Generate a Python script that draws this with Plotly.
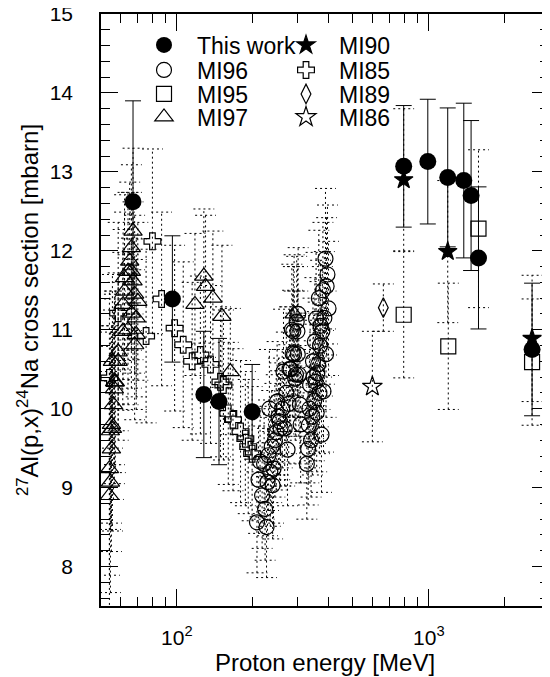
import math
import plotly.graph_objects as go

# ---------------- data ----------------
# This work (filled circles, solid error bars)
tw_E = [67, 96, 128, 147, 199, 795, 991, 1189, 1377, 1472, 1575, 2570]
tw_S = [12.62, 11.39, 10.18, 10.09, 9.96, 13.07, 13.13, 12.93, 12.89, 12.70, 11.91, 10.75]
tw_Err = [1.28, 0.80, 0.80, 0.80, 0.60, 0.77, 0.79, 0.88, 0.98, 0.95, 0.90, 0.84]

# MI96 (open circles)
mi96_E = [208, 211, 214, 218, 222, 224, 227, 229, 231, 233, 235, 238, 240, 242, 245,
          248, 250, 253, 256, 258, 262, 265, 268, 272, 275, 278, 280, 283, 286, 288,
          290, 292, 295, 297, 299,
          301, 302, 303, 305, 308, 310, 328, 332, 334, 336, 338, 341, 345, 347, 349,
          351, 353, 355, 357, 359, 361, 364, 366, 368, 370, 372, 375, 378, 380, 382,
          385, 389, 391, 393, 396, 400]
mi96_S = [8.56, 9.10, 9.33, 8.90, 9.30, 8.73, 8.50, 9.07, 9.41, 10.00, 9.20, 9.52, 9.03, 9.24, 9.60,
          9.70, 10.09, 9.90, 9.84, 9.75, 10.00, 10.47, 9.75, 10.20, 9.48, 10.06, 10.50, 10.50, 11.00, 10.70,
          10.98, 10.69, 10.38, 10.43, 11.10,
          10.98, 10.69, 11.20, 10.43, 10.05, 9.80, 9.30, 9.49, 9.79, 10.00, 10.30, 9.60, 9.90, 10.60, 10.40,
          10.10, 10.85, 10.34, 11.14, 9.95, 10.45, 10.56, 11.40, 10.20, 10.80, 11.05, 9.67, 10.98, 11.50, 10.22,
          11.15, 11.90, 10.69, 11.55, 11.70, 11.27]
mi96_Err = [0.64, 0.68, 0.70, 0.67, 0.70, 0.65, 0.64, 0.68, 0.70, 0.75, 0.69, 0.71, 0.68, 0.69, 0.72,
            0.73, 0.76, 0.74, 0.74, 0.73, 0.75, 0.79, 0.73, 0.77, 0.71, 0.75, 0.79, 0.79, 0.83, 0.80,
            0.82, 0.80, 0.78, 0.78, 0.83,
            0.82, 0.80, 0.84, 0.78, 0.75, 0.74, 0.70, 0.71, 0.73, 0.75, 0.77, 0.72, 0.74, 0.80, 0.78,
            0.76, 0.81, 0.78, 0.84, 0.75, 0.78, 0.79, 0.86, 0.77, 0.81, 0.83, 0.73, 0.82, 0.86, 0.77,
            0.84, 0.89, 0.80, 0.87, 0.88, 0.85]

# MI95 (open squares)
mi95_E = [795, 1195, 1575, 2570]
mi95_S = [11.19, 10.79, 12.28, 10.59]
mi95_Err = [0.80, 0.80, 1.00, 0.80]

# MI97 (open triangles)
mi97_E = [54, 54.5, 54, 55, 55.5, 54.5, 55, 56, 56.5, 57, 55.5,
          56.6, 58.5, 58.5, 61, 61.2, 62, 62, 64, 64, 65, 66, 66, 66, 67, 67, 68, 68, 69, 69, 70,
          118, 128, 130, 139, 151, 163, 292]
mi97_S = [8.90, 9.07, 9.24, 9.49, 9.75, 9.72, 9.80, 10.05, 10.25, 10.34, 10.60,
          10.34, 10.60, 10.72, 10.98, 11.32, 11.49, 11.66, 11.00, 11.74, 11.87, 11.21, 11.74, 12.04,
          11.62, 12.25, 10.81, 11.45, 10.94, 11.15, 11.36,
          11.32, 11.68, 11.55, 11.40, 11.17, 10.47, 11.20]
mi97_Err = [1.45, 1.40, 1.35, 1.30, 1.30, 1.25, 1.25, 1.20, 1.20, 1.15, 1.10,
            1.05, 1.00, 1.00, 1.00, 0.95, 1.00, 1.05, 0.95, 1.00, 1.00, 0.95, 1.00, 1.05, 1.00,
            1.05, 0.95, 1.00, 0.95, 1.00, 1.00,
            0.90, 0.85, 0.90, 0.85, 0.90, 0.80, 0.75]

# MI90 (filled stars)
mi90_E = [795, 1189, 2570]
mi90_S = [12.90, 11.99, 10.89]
mi90_Err = [0.90, 0.90, 0.80]

# MI85 (open crosses)
mi85_E = [54, 58.5, 75.5, 80, 87, 98, 106, 115, 124, 136, 149, 153, 160, 167, 179, 187, 192, 199]
mi85_S = [10.39, 11.21, 10.92, 12.12, 11.39, 11.02, 10.81, 10.60, 10.68, 10.56, 10.34, 10.30,
          9.94, 9.86, 9.71, 9.62, 9.52, 9.43]
mi85_Err = [1.10, 1.15, 1.10, 1.17, 1.10, 1.05, 1.05, 1.00, 1.00, 1.00, 0.95, 0.95,
            0.90, 0.90, 0.90, 0.85, 0.85, 0.85]

# MI89 (open diamond)
mi89_E = [660]
mi89_S = [11.28]
mi89_Err = [0.30]

# MI86 (open star)
mi86_E = [597]
mi86_S = [10.28]
mi86_Err = [0.70]

x_tickvals = [100, 1000]
x_ticktext = ["10<sup>2</sup>", "10<sup>3</sup>"]
x_minor = [60, 70, 80, 90, 200, 300, 400, 500, 600, 700, 800, 900, 2000, 3000]

FONT = "Liberation Sans, Arial, sans-serif"
CAP = 1.10  # multiplicative half-width of dotted caps on the log axis


def dotted_bars(E, S, ERR):
    xs, ys = [], []
    for e, s, d in zip(E, S, ERR):
        lo, hi = s - d, s + d
        xs += [e, e, None, e / CAP, e * CAP, None, e / CAP, e * CAP, None]
        ys += [lo, hi, None, lo, lo, None, hi, hi, None]
    return xs, ys


fig = go.Figure()

lit = [
    ("MI96", mi96_E, mi96_S, mi96_Err, "circle-open", 15, "legend2"),
    ("MI95", mi95_E, mi95_S, mi95_Err, "square-open", 15, "legend3"),
    ("MI97", mi97_E, mi97_S, mi97_Err, "triangle-up-open", 16, "legend4"),
    ("MI90", mi90_E, mi90_S, mi90_Err, "star", 14, "legend5"),
    ("MI85", mi85_E, mi85_S, mi85_Err, "cross-open", 14, "legend6"),
    ("MI89", mi89_E, mi89_S, mi89_Err, "diamond-tall-open", 14, "legend7"),
    ("MI86", mi86_E, mi86_S, mi86_Err, "star-open", 15, "legend8"),
]

# dotted error bars first
for name, E, S, ERR, sym, size, lg in lit:
    bx, by = dotted_bars(E, S, ERR)
    fig.add_trace(go.Scatter(x=bx, y=by, mode="lines", showlegend=False, hoverinfo="skip",
                             line=dict(color="black", width=1, dash="2px,3px")))

# this work
fig.add_trace(go.Scatter(
    x=tw_E, y=tw_S, mode="markers", name="This work", legend="legend",
    marker=dict(symbol="circle", size=17, color="black"),
    error_y=dict(type="data", array=tw_Err, color="black", thickness=1, width=8)))

for name, E, S, ERR, sym, size, lg in lit:
    fig.add_trace(go.Scatter(
        x=E, y=S, mode="markers", name=name, legend=lg,
        marker=dict(symbol=sym, size=size, color="black",
                    line=dict(color="black", width=1.2))))

# ---------------- layout ----------------
# the page body adds an 8 px offset, so the figure is 8 px smaller on each axis
OFF = 8
W, H = 550 - OFF, 677 - OFF
L, R, T, B = 101 - OFF, 1, 14 - OFF, 71
plot_h = H - T - B
plot_w = W - L - R

def px_to_paper_y(py):
    return (H - B - (py - OFF)) / plot_h

def px_to_paper_x(px):
    return ((px - OFF) - L) / plot_w

ITEMW = 56
SYM_OFF = (ITEMW + 10) / 2
legend_rows = [45, 70, 94, 117]
col_x = [164, 306]
legends = {}
names = ["legend", "legend2", "legend3", "legend4", "legend5", "legend6", "legend7", "legend8"]
for i, nm in enumerate(names):
    col = i // 4
    row = i % 4
    legends[nm] = dict(
        x=px_to_paper_x(col_x[col] - SYM_OFF), y=px_to_paper_y(legend_rows[row]),
        xanchor="left", yanchor="middle", bgcolor="rgba(0,0,0,0)", borderwidth=0,
        font=dict(family=FONT, size=23, color="black"), itemwidth=ITEMW)

fig.update_layout(
    width=W, height=H,
    margin=dict(l=L, r=R, t=T, b=B, pad=0, autoexpand=False),
    paper_bgcolor="white", plot_bgcolor="white",
    font=dict(family=FONT, size=21, color="black"),
    showlegend=True,
    **legends,
)

fig.update_xaxes(
    type="log", range=[math.log10(50), math.log10(3000)],
    tickmode="array", tickvals=x_tickvals, ticktext=x_ticktext,
    ticks="inside", ticklen=17, tickwidth=1, tickcolor="black",
    minor=dict(tickmode="array", tickvals=x_minor, ticks="inside", ticklen=9,
               tickwidth=1, tickcolor="black", showgrid=False),
    showline=True, linecolor="black", linewidth=1.5, mirror="ticks",
    showgrid=False, zeroline=False, automargin=False,
    tickfont=dict(family=FONT, size=21), ticklabeloverflow="allow",
    ticklabelstandoff=12,
    title=dict(text="Proton energy [MeV]", font=dict(family=FONT, size=24), standoff=6),
)
fig.update_yaxes(
    range=[7.5, 15], tick0=0, dtick=1,
    ticks="inside", ticklen=17, tickwidth=1, tickcolor="black",
    minor=dict(dtick=0.2, ticks="inside", ticklen=9, tickwidth=1, tickcolor="black",
               showgrid=False),
    showline=True, linecolor="black", linewidth=1.5, mirror="ticks",
    showgrid=False, zeroline=False, automargin=False,
    tickfont=dict(family=FONT, size=21), ticklabeloverflow="allow",
    ticklabelstandoff=22,
    title=dict(text="<sup>27</sup>Al(p,x)<sup>24</sup>Na cross section [mbarn]",
               font=dict(family=FONT, size=24), standoff=4),
)

fig.write_html("out.html")
